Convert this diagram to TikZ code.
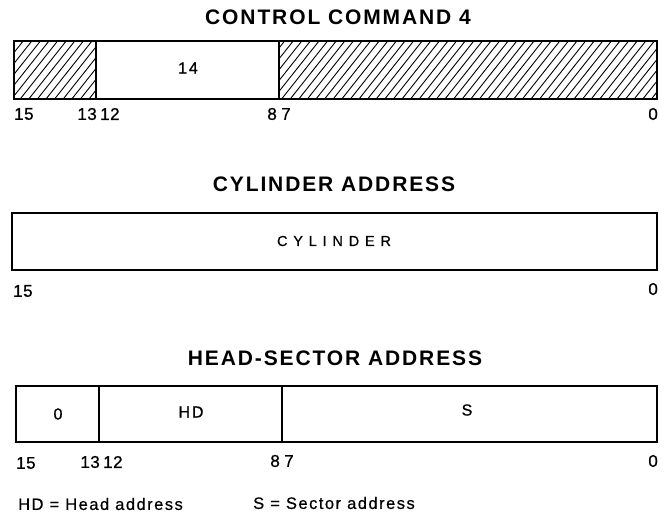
\documentclass[tikz,border=0pt]{standalone}
\usepackage{fontspec}
\setmainfont{Liberation Sans}
\newfontfamily\titlefont[LetterSpace=9]{Liberation Sans}
\newfontfamily\widefont[LetterSpace=40,FakeBold=0.6]{Liberation Sans}
\newfontfamily\legfont[LetterSpace=9,FakeBold=0.6]{Liberation Sans}
\newfontfamily\fieldfont[LetterSpace=12,FakeBold=0.9]{Liberation Sans}
\newfontfamily\numfont[LetterSpace=3,FakeBold=0.8]{Liberation Sans}
\begin{document}
\begin{tikzpicture}[x=1pt,y=-1pt,
  box/.style={draw=black,line width=1.7pt},
  divider/.style={draw=black,line width=1.3pt},
  hatchline/.style={draw=black,line width=0.9pt},
  title/.style={inner sep=0pt,font=\titlefont\bfseries\fontsize{21}{23}\selectfont},
  bitnum/.style={inner sep=0pt,font=\numfont\fontsize{17}{19}\selectfont},
  field/.style={inner sep=0pt,font=\fieldfont\fontsize{16}{18}\selectfont},
  wide/.style={inner sep=0pt,font=\widefont\fontsize{14.5}{16}\selectfont},
  legend/.style={inner sep=0pt,anchor=west,font=\legfont\fontsize{16.5}{18}\selectfont}]
\useasboundingbox (0,0) rectangle (670,512);

% ---------- CONTROL COMMAND 4 ----------
\node[title] (t1) at (338,17) {CONTROL COMMAND 4};
\begin{scope}
  \clip (14,41) rectangle (96,99);
  \foreach \k in {0,...,16} \draw[hatchline] (\k*8.6-40,99) -- ++(46,-58);
\end{scope}
\begin{scope}
  \clip (279,41) rectangle (657,99);
  \foreach \k in {0,...,55} \draw[hatchline] (\k*8.6+230,99) -- ++(46,-58);
\end{scope}
\draw[box] (14,41) rectangle (657,99);
\draw[divider] (96,41) -- (96,99);
\draw[divider] (279,41) -- (279,99);
\node[field] (f14) at (188,68) {14};
\node[bitnum,anchor=west] (a15) at (14,114) {15};
\node[bitnum,anchor=east] (a13) at (97,114) {13};
\node[bitnum,anchor=west] (a12) at (100,114) {12};
\node[bitnum,anchor=east] (a8) at (277,114) {8};
\node[bitnum,anchor=west] (a7) at (281,114) {7};
\node[bitnum,anchor=east] (a0) at (658,114) {0};

% ---------- CYLINDER ADDRESS ----------
\node[title] (t2) at (334,184) {CYLINDER ADDRESS};
\draw[box] (12,213) rectangle (657,270);
\node[wide] (cyl) at (334,241) {CYLINDER};
\node[bitnum,anchor=west] (b15) at (13,291) {15};
\node[bitnum,anchor=east] (b0) at (658,289) {0};

% ---------- HEAD-SECTOR ADDRESS ----------
\node[title] (t3) at (335,358) {HEAD-SECTOR ADDRESS};
\draw[box] (16,386) rectangle (657,442);
\draw[divider] (99,386) -- (99,442);
\draw[divider] (282,386) -- (282,442);
\node[field] (f0) at (58,414) {0};
\node[field] (fhd) at (191,412) {HD};
\node[field] (fs) at (467,410) {S};
\node[bitnum,anchor=west] (c15) at (16,463) {15};
\node[bitnum,anchor=east] (c13) at (100,462) {13};
\node[bitnum,anchor=west] (c12) at (103,462) {12};
\node[bitnum,anchor=east] (c8) at (280,461) {8};
\node[bitnum,anchor=west] (c7) at (284,461) {7};
\node[bitnum,anchor=east] (c0) at (658,461) {0};

% ---------- legend ----------
\node[legend] (l1) at (18,504) {HD = Head address};
\node[legend] (l2) at (253,503) {S = Sector address};
\end{tikzpicture}
\end{document}
